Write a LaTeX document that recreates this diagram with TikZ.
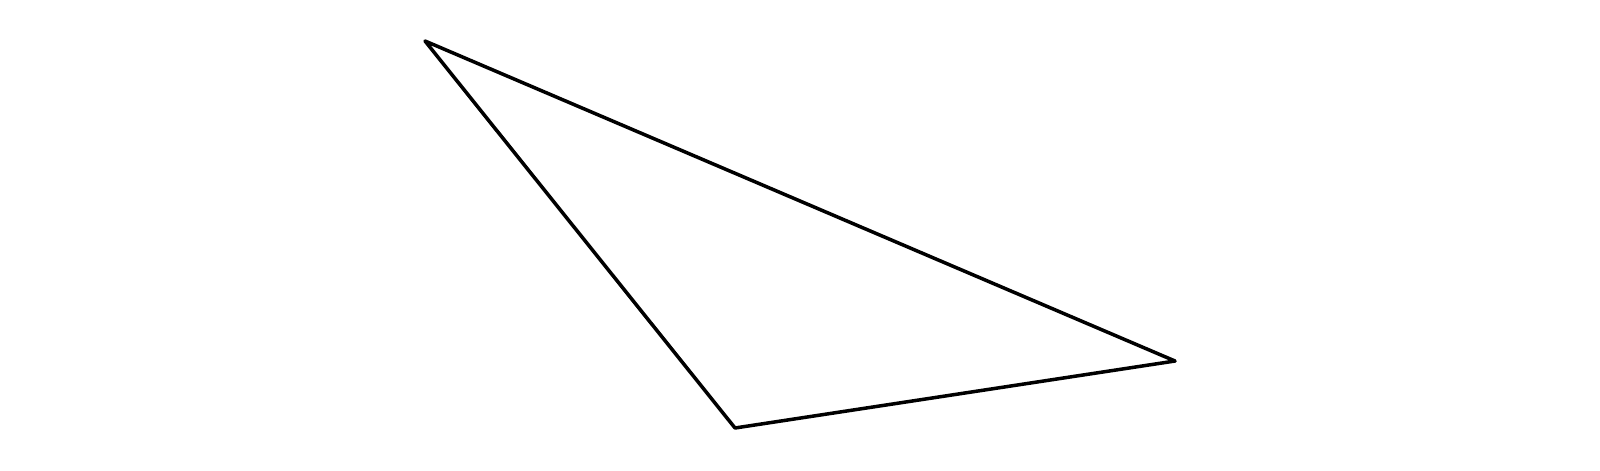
\documentclass[tikz,border=0pt]{standalone}
\usetikzlibrary{positioning}

\begin{document}
\begin{tikzpicture}[
  edge/.style={draw=black, line width=1pt, line join=round},
]

% Frame
\useasboundingbox (0,0) rectangle (16,4.7);

% Corners
\coordinate (top) at (4.25,4.29);
\coordinate (right) at (11.75,1.09);
\coordinate (bottom) at (7.35,0.42);

% Triangle
\draw[edge] (top) -- (right) -- (bottom) -- cycle;

\end{tikzpicture}
\end{document}
